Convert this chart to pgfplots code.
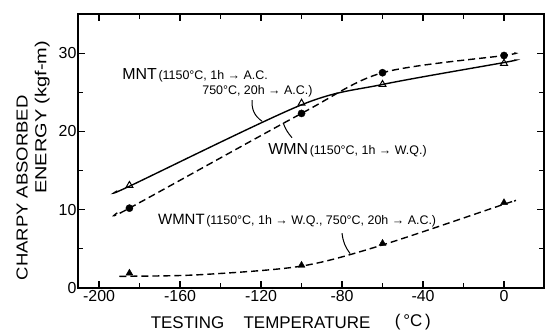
\documentclass[border=0pt]{standalone}
\usepackage{fontspec}
\setmainfont{Liberation Sans}
\usepackage{graphicx}
\usepackage{pgfplots}
\pgfplotsset{compat=1.18}
\begin{document}
\begin{tikzpicture}
\useasboundingbox (-78bp,-43bp) rectangle (471bp,288bp);
\begin{axis}[
  at={(0,0)}, anchor=south west,
  scale only axis, width=466bp, height=274bp,
  xmin=-210.4, xmax=19.75, ymin=0, ymax=35,
  clip=false,
  axis line style={line width=1.6bp},
  xtick={-200,-160,-120,-80,-40,0},
  xticklabels={-200,-160,-120,-80,-40,0},
  ytick={0,10,20,30}, yticklabels={0,10,20,30},
  minor xtick={-180,-140,-100,-60,-20},
  minor ytick={5,15,25},
  tick align=inside, tick pos=both,
  xticklabel pos=lower, yticklabel pos=left,
  major tick length=7bp, minor tick length=5bp,
  every tick/.style={line width=1.2bp, black},
  ticklabel style={font=\fontsize{16}{16}\selectfont},
  xticklabel style={yshift=1bp},
  yticklabel style={xshift=2bp},
]
% MNT (solid, open triangles)
\addplot[black, line width=1.4bp, smooth, no marks] coordinates {
  (-191,12.4) (-185,13.0) (-100,23.4) (-60,26.0) (0,28.8) (5,29.1)};
\addplot[black, only marks, mark=triangle, mark size=4bp, mark options={line width=1bp, fill=white}] coordinates {
  (-185,13.1) (-100,23.6) (-60,26.0) (0,28.7)};
% WMN (dashed, filled circles)
\addplot[black, line width=1.4bp, smooth, no marks, dash pattern=on 7bp off 4bp] coordinates {
  (-191,9.6) (-185,10.2) (-100,22.3) (-60,27.5) (0,29.7) (5,30.0)};
\addplot[black, only marks, mark=*, mark size=3.6bp] coordinates {
  (-185,10.2) (-100,22.3) (-60,27.5) (0,29.7)};
% WMNT (dashed, filled triangles)
\addplot[black, line width=1.4bp, smooth, no marks, dash pattern=on 7bp off 4bp] coordinates {
  (-190,1.5) (-185,1.5) (-150,1.7) (-100,2.8) (-60,5.5) (0,10.7) (5,11.1)};
\addplot[black, only marks, mark=triangle*, mark size=4bp] coordinates {
  (-185,1.9) (-100,2.9) (-60,5.7) (0,10.9)};

% axis labels
\node[rotate=90, anchor=base, inner sep=0pt, font=\fontsize{16}{16}\selectfont] at (axis cs:-235.3,12.8) {\scalebox{1.16}[1]{CHARPY ABSORBED}};
\node[rotate=90, anchor=base, inner sep=0pt, font=\fontsize{16}{16}\selectfont] at (axis cs:-226.0,21.8) {\scalebox{1.25}[1]{ENERGY (kgf-m)}};
\node[font=\fontsize{17}{17}\selectfont] at (axis cs:-156.3,-4.4) {TESTING};
\node[font=\fontsize{17}{17}\selectfont] at (axis cs:-97.3,-4.4) {TEMPERATURE};
\node[font=\fontsize{17}{17}\selectfont] at (axis cs:-45,-4.4) {(\,°C\,)};

% annotations
\node[anchor=base west, inner sep=0pt] (mnt) at (axis cs:-188.6,26.6)
  {{\fontsize{16}{16}\selectfont MNT}\,{\fontsize{12.5}{12.5}\selectfont (1150°C, 1h → A.C.}};
\node[anchor=base west, inner sep=0pt] at ([xshift=80bp, yshift=-15bp]mnt.base west)
  {\fontsize{12.5}{12.5}\selectfont 750°C, 20h → A.C.)};
\draw[line width=1bp] (axis cs:-124.4,24.0) to[bend right=30] (axis cs:-119.5,21.3);

\node[anchor=base west, inner sep=0pt] at (axis cs:-116.5,17.0)
  {{\fontsize{16}{16}\selectfont WMN}\,{\fontsize{12.5}{12.5}\selectfont (1150°C, 1h → W.Q.)}};
\draw[line width=1bp] (axis cs:-109.1,21.1) to[bend right=10] (axis cs:-104.7,19.2);

\node[anchor=base west, inner sep=0pt] at (axis cs:-170.9,8.05)
  {{\fontsize{15}{15}\selectfont WMNT}\,{\fontsize{12.5}{12.5}\selectfont (1150°C, 1h → W.Q., 750°C, 20h → A.C.)}};
\draw[line width=1bp] (axis cs:-80,7.0) to[bend right=15] (axis cs:-76,4.4);
\end{axis}
\end{tikzpicture}
\end{document}
